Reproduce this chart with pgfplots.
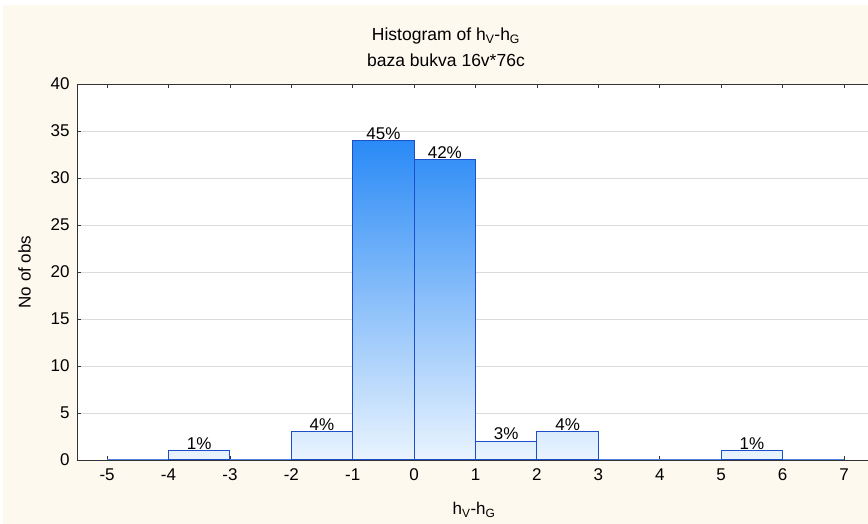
\documentclass[border=0pt]{standalone}
\usepackage{fontspec}
\setmainfont{Liberation Sans}
\usepackage{pgfplots}
\pgfplotsset{compat=1.18}
\definecolor{bg}{HTML}{FEF9EE}
\definecolor{bblue}{HTML}{2A8AF6}
\definecolor{bpale}{HTML}{EAF4FE}
\definecolor{bedge}{HTML}{1E4FCB}
\definecolor{zline}{HTML}{4F82E0}
\pgfplotsset{
  histbar/.style={ybar, bar width=1, bar shift=0pt, draw=bedge, line width=1.1pt,
    bottom color=bpale, top color=bblue!#1!bpale,
    nodes near coords, point meta=explicit symbolic,
    every node near coord/.append style={font=\fontsize{17}{19}\selectfont, text=black, anchor=south, inner sep=0.5pt}},
  zerobar/.style={ybar, bar width=1, bar shift=0pt, draw=zline, line width=1.8pt, fill=zline},
}
\begin{document}
\begin{tikzpicture}[x=1pt,y=1pt]
\useasboundingbox (-77,-64) rectangle (791,460);
\fill[white] (-77,-64) rectangle (791,460);
\fill[bg] (-74,-64) rectangle (791,455);
\node[font=\fontsize{17.5}{19}\selectfont] at (369,424) {Histogram of h\textsubscript{V}-h\textsubscript{G}};
\node[font=\fontsize{17.5}{19}\selectfont] at (369,400) {baza bukva 16v*76c};
\begin{axis}[
  at={(0,0)}, anchor=south west,
  scale only axis, width=794pt, height=376pt,
  xmin=-5.49, xmax=7.44, ymin=0, ymax=40,
  axis background/.style={fill=white},
  xtick={-5,-4,...,7}, ytick={0,5,...,40},
  ytick pos=left, xticklabel pos=bottom,
  major tick length=4pt,
  tick style={draw=black!80, line width=0.8pt},
  axis line style={draw=black!80, line width=0.9pt},
  ymajorgrids, grid style={draw=black!14, line width=0.8pt},
  /pgf/number format/assume math mode=true,
  tick label style={font=\fontsize{17}{19}\selectfont},
  xticklabel style={yshift=-5pt},
  yticklabel style={xshift=-4pt},
  xlabel={h\textsubscript{V}-h\textsubscript{G}},
  ylabel={No of obs},
  label style={font=\fontsize{17}{19}\selectfont},
  x label style={at={(axis description cs:0.5,-0.133)}, anchor=center},
  y label style={at={(axis description cs:-0.066,0.5)}, anchor=center},
]
\addplot[zerobar] coordinates {(-4.5,0) (-2.5,0) (3.5,0) (4.5,0) (6.5,0)};
\addplot[histbar=3] coordinates {(-3.5,1) [1\%]};
\addplot[histbar=9] coordinates {(-1.5,3) [4\%]};
\addplot[histbar=100] coordinates {(-0.5,34) [45\%]};
\addplot[histbar=94] coordinates {(0.5,32) [42\%]};
\addplot[histbar=6] coordinates {(1.5,2) [3\%]};
\addplot[histbar=9] coordinates {(2.5,3) [4\%]};
\addplot[histbar=3] coordinates {(5.5,1) [1\%]};
\end{axis}
\end{tikzpicture}
\end{document}
